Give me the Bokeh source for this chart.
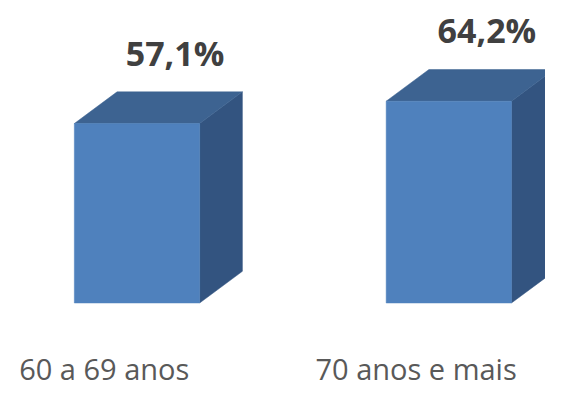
from bokeh.plotting import figure
from bokeh.models import Range1d, ColumnDataSource
from bokeh.core.properties import value
from bokeh.embed import file_html
from bokeh.resources import INLINE

# data
categories = ["60 a 69 anos", "70 anos e mais"]
values = [57.1, 64.2]
labels = ["57,1%", "64,2%"]

# geometry (style) in data units (designed for a 561x403 canvas)
PX_X = 321.0          # pixels per category unit
PX_Y = 3.273          # pixels per percent
half_w = 64.5 / PX_X
dx = 44.0 / PX_X
dy = 33.0 / PX_Y

REF_W, REF_H = 561, 403
W, H = 545, 387
x_start = -140.5 / PX_X
y_start = -(403 - 315) / PX_Y

p = figure(width=W, height=H, output_backend="svg", toolbar_location=None,
           x_range=Range1d(x_start, x_start + REF_W / PX_X),
           y_range=Range1d(y_start, y_start + REF_H / PX_Y),
           min_border=0)
p.axis.visible = False
p.grid.visible = False
p.outline_line_color = None
p.background_fill_color = "white"
p.border_fill_color = "white"

front_xs, front_ys, top_xs, top_ys, side_xs, side_ys = [], [], [], [], [], []
for i, v in enumerate(values):
    l, r = i - half_w, i + half_w
    front_xs.append([l, r, r, l]); front_ys.append([0, 0, v, v])
    top_xs.append([l, r, r + dx, l + dx]); top_ys.append([v, v, v + dy, v + dy])
    side_xs.append([r, r + dx, r + dx, r]); side_ys.append([0, dy, v + dy, v])

p.patches(side_xs, side_ys, fill_color="#335480", line_color="#335480", line_width=0.5)
p.patches(top_xs, top_ys, fill_color="#3D6391", line_color="#3D6391", line_width=0.5)
p.patches(front_xs, front_ys, fill_color="#4F81BD", line_color="#4F81BD", line_width=0.5)

lab_src = ColumnDataSource(dict(
    x=[i + dx - 0.015 for i in range(len(values))],
    y=[v + 22.5 for v in values],
    t=labels))
p.text(x="x", y="y", text="t", source=lab_src, text_align="center",
       text_baseline="alphabetic", text_font=value("Open Sans"),
       text_font_style="bold", text_font_size="34px", text_color="#404040")

cat_src = ColumnDataSource(dict(
    x=[i - 0.105 for i in range(len(categories))],
    y=[-20.8] * len(categories),
    t=categories))
p.text(x="x", y="y", text="t", source=cat_src, text_align="center",
       text_baseline="alphabetic", text_font=value("Open Sans"),
       text_font_size="29px", text_color="#595959")

open("out.html", "w").write(file_html(p, INLINE))
